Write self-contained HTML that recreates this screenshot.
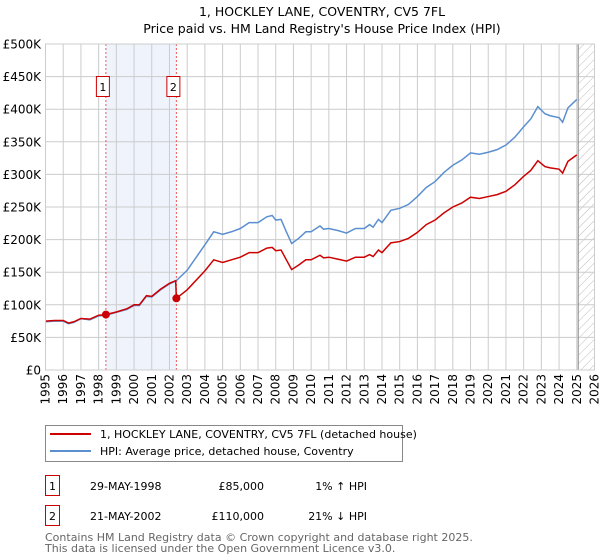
<!DOCTYPE html>
<html><head><meta charset="utf-8"><style>
body{margin:0;width:600px;height:560px;background:#fff;font-family:"Liberation Sans","DejaVu Sans",sans-serif;overflow:hidden}
svg{display:block}
text{font-family:"DejaVu Sans","Liberation Sans",sans-serif}
</style></head><body>
<svg id="chart" width="600" height="560">
<defs><pattern id="hatch" width="6" height="6" patternUnits="userSpaceOnUse" patternTransform="rotate(45)"><line x1="0" y1="0" x2="0" y2="6" stroke="#bbb" stroke-width="1"/></pattern></defs>
<text x="322" y="16" text-anchor="middle" font-size="12.5">1, HOCKLEY LANE, COVENTRY, CV5 7FL</text>
<text x="322" y="33" text-anchor="middle" font-size="12.5">Price paid vs. HM Land Registry's House Price Index (HPI)</text>
<g id="grid"></g><g id="marks"></g>
<rect x="45.5" y="44" width="549" height="326" fill="none" stroke="#ccc"/>
<g>
<rect x="45.5" y="425.5" width="357" height="36" fill="#fff" stroke="#888"/>
<line x1="50" y1="434" x2="91" y2="434" stroke="#cc0000" stroke-width="2"/>
<text x="100" y="438" font-size="11">1, HOCKLEY LANE, COVENTRY, CV5 7FL (detached house)</text>
<line x1="50" y1="451" x2="91" y2="451" stroke="#5b8fd0" stroke-width="2"/>
<text x="100" y="455" font-size="11">HPI: Average price, detached house, Coventry</text>
</g>
<g>
<rect x="45.5" y="475.5" width="14" height="20" fill="#fff" stroke="#cc0000"/><text x="52.5" y="490" text-anchor="middle" font-size="11">1</text>
<text x="90" y="490" font-size="11">29-MAY-1998</text><text x="264" y="490" text-anchor="end" font-size="11">£85,000</text><text x="367" y="490" text-anchor="end" font-size="11">1% ↑ HPI</text>
<rect x="45.5" y="505.5" width="14" height="20" fill="#fff" stroke="#cc0000"/><text x="52.5" y="520" text-anchor="middle" font-size="11">2</text>
<text x="90" y="520" font-size="11">21-MAY-2002</text><text x="264" y="520" text-anchor="end" font-size="11">£110,000</text><text x="367" y="520" text-anchor="end" font-size="11">21% ↓ HPI</text>
</g>
<text x="45" y="541" font-size="11" fill="#666">Contains HM Land Registry data © Crown copyright and database right 2025.</text>
<text x="45" y="552" font-size="11" fill="#666">This data is licensed under the Open Government Licence v3.0.</text>
</svg>
<script>
const yearTicks=[1995,1996,1997,1998,1999,2000,2001,2002,2003,2004,2005,2006,2007,2008,2009,2010,2011,2012,2013,2014,2015,2016,2017,2018,2019,2020,2021,2022,2023,2024,2025,2026];
const priceTicks=[0,50,100,150,200,250,300,350,400,450,500];
const priceTickLabels=["£0","£50K","£100K","£150K","£200K","£250K","£300K","£350K","£400K","£450K","£500K"];
const hpiYears=[1995,1995.5,1996,1996.3,1996.6,1997,1997.5,1998,1998.41,1999,1999.6,2000,2000.3,2000.7,2001,2001.5,2002,2002.39,2003,2004,2004.5,2005,2005.5,2006,2006.5,2007,2007.5,2007.8,2008,2008.3,2008.6,2008.9,2009.3,2009.7,2010,2010.5,2010.7,2011,2011.5,2012,2012.5,2013,2013.3,2013.5,2013.8,2014,2014.5,2015,2015.5,2016,2016.5,2017,2017.5,2018,2018.5,2019,2019.5,2020,2020.5,2021,2021.5,2022,2022.4,2022.8,2023.2,2023.5,2024,2024.2,2024.5,2025];
const hpiValues=[74,75,75,71,73,78.7,77,83,84,88.5,93,99,99,113,112,123,132,137,153,192,212,208,212,217,226,226,235,237,230,231,212,194,202,212,212,221,216,217,214,210,217,217,223,219,231,226,245,248,254,266,280,289,303,314,322,333,331,334,338,345,357,373,385,404,393,390,387,380,402,415];
const paidYears=[1995,1995.5,1996,1996.3,1996.6,1997,1997.5,1998,1998.41,1999,1999.6,2000,2000.3,2000.7,2001,2001.5,2002,2002.35,2002.39,2003,2004,2004.5,2005,2005.5,2006,2006.5,2007,2007.5,2007.8,2008,2008.3,2008.6,2008.9,2009.3,2009.7,2010,2010.5,2010.7,2011,2011.5,2012,2012.5,2013,2013.3,2013.5,2013.8,2014,2014.5,2015,2015.5,2016,2016.5,2017,2017.5,2018,2018.5,2019,2019.5,2020,2020.5,2021,2021.5,2022,2022.4,2022.8,2023.2,2023.5,2024,2024.2,2024.5,2025];
const paidValues=[75,76,76,72,74,79,78,84,85,89,94,100,100,114,113,124,133,137,110,123,152,169,165,169,173,180,180,187,188,183,184,169,154,161,169,169,176,172,173,170,167,173,173,177,174,184,180,195,197,202,211,223,230,241,250,256,265,263,266,269,274,284,297,306,321,312,310,308,302,320,330];
const saleYears=[1998.41,2002.39];
const saleValues=[85,110];
const saleLabels=["1","2"];
const NS="http://www.w3.org/2000/svg";
const X0=45.5,X1=594.5,Y0=370,Y1=44;
const xs=y=>X0+(y-1995)/(2026-1995)*(X1-X0);
const ys=v=>Y0-v/500*(Y0-Y1);
function mk(tag,attrs,parent){const e=document.createElementNS(NS,tag);for(const k in attrs)e.setAttribute(k,attrs[k]);parent.appendChild(e);return e;}
const grid=document.getElementById('grid'),marks=document.getElementById('marks');
let r=mk('rect',{x:xs(saleYears[0]),y:Y1,width:xs(saleYears[1])-xs(saleYears[0]),height:Y0-Y1,fill:'#eef3fc'},grid);


let h=mk('rect',{x:xs(2025.08),y:Y1,width:X1-xs(2025.08),height:Y0-Y1,fill:'url(#hatch)'},grid);


yearTicks.forEach(t=>{
 let l=mk('line',{x1:xs(t),x2:xs(t),y1:Y1,y2:Y0,stroke:'#ccc'},grid);
 
 
 let tx=mk('text',{x:0,y:0,'font-size':12,'text-anchor':'end',transform:`translate(${xs(t)+4},374) rotate(-90)`},grid);
 tx.textContent=t;
 
 
});
priceTicks.forEach((t,i)=>{
 let l=mk('line',{x1:X0,x2:X1,y1:ys(t),y2:ys(t),stroke:'#ccc'},grid);
 
 
 let tx=mk('text',{x:41,y:ys(t)+4.5,'font-size':12,'text-anchor':'end'},grid);
 tx.textContent=priceTickLabels[i];
 
 
});
let fl=mk('line',{x1:xs(2025.08),x2:xs(2025.08),y1:Y1,y2:Y0,stroke:'#888'},grid);


saleYears.forEach((y,i)=>{
 let l=mk('line',{x1:xs(y),x2:xs(y),y1:Y1,y2:Y0,stroke:'#e55','stroke-dasharray':'2,2'},marks);
 
 
 let b=mk('rect',{x:xs(y)-9.5,y:76.5,width:13,height:20,fill:'#fff',stroke:'#cc0000'},marks);
 
 
 let t=mk('text',{x:xs(y)-3,y:91,'font-size':11,'text-anchor':'middle'},marks);
 t.textContent=saleLabels[i];
 
 
});
let hp=mk('polyline',{points:hpiYears.map((y,i)=>xs(y)+','+ys(hpiValues[i])).join(' '),fill:'none',stroke:'#5b8fd0','stroke-width':1.5},marks);


let pp=mk('polyline',{points:paidYears.map((y,i)=>xs(y)+','+ys(paidValues[i])).join(' '),fill:'none',stroke:'#cc0000','stroke-width':1.5},marks);


saleYears.forEach((y,i)=>{
 let c=mk('circle',{cx:xs(y),cy:ys(saleValues[i]),r:4,fill:'#cc0000'},marks);
 
 
});
</script>
</body></html>
